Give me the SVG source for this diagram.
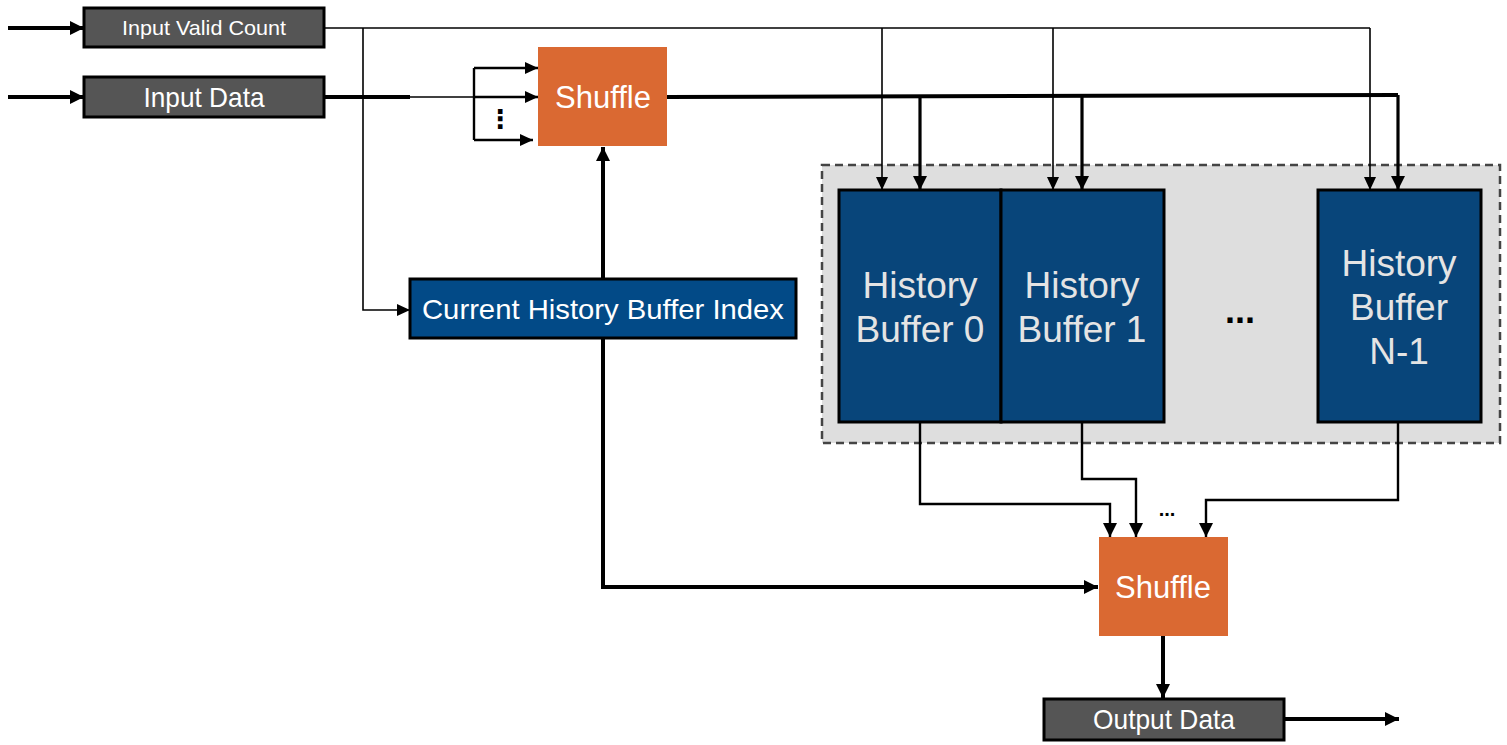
<svg xmlns="http://www.w3.org/2000/svg" width="1507" height="745" viewBox="0 0 1507 745">
<defs>
<marker id="ah" markerUnits="userSpaceOnUse" markerWidth="16" markerHeight="16" viewBox="0 0 16 16" refX="14" refY="8" orient="auto">
<path d="M0,1 L14,8 L0,15 Z" fill="#000"/>
</marker>
<marker id="ahs" markerUnits="userSpaceOnUse" markerWidth="14" markerHeight="14" viewBox="0 0 14 14" refX="13" refY="7" orient="auto">
<path d="M0,1 L13,7 L0,13 Z" fill="#000"/>
</marker>
<style>
.gray{fill:#555555;stroke:#000;stroke-width:3}
.orange{fill:#DA6932}
.hb{fill:#08457A;stroke:#000;stroke-width:3}
.idx{fill:#024A87;stroke:#000;stroke-width:3}
.t{font-family:"Liberation Sans",Arial,sans-serif;fill:#fff;text-anchor:middle}
.th{font-family:"Liberation Sans",Arial,sans-serif;fill:#E4E4E4;text-anchor:middle;font-size:37px}
.w1{stroke:#000;stroke-width:1.6;fill:none}
.w2{stroke:#000;stroke-width:2.4;fill:none}
.w3{stroke:#000;stroke-width:3.2;fill:none}
.w4{stroke:#000;stroke-width:4;fill:none}
.dots{font-family:"Liberation Sans",Arial,sans-serif;fill:#000;font-weight:bold;text-anchor:middle}
</style>
</defs>
<g id="container">
<rect x="822" y="165" width="678" height="278" fill="#DEDEDE" stroke="#444" stroke-width="2.5" stroke-dasharray="8,5"/>
</g>
<g id="connectors">
<line class="w4" x1="8" y1="28" x2="84" y2="28" marker-end="url(#ah)"/>
<line class="w4" x1="8" y1="97" x2="84" y2="97" marker-end="url(#ah)"/>
<polyline class="w1" points="324,28 1370,28"/>
<polyline class="w1" points="363,28 363,310 410,310" marker-end="url(#ahs)"/>
<line class="w1" x1="882" y1="28" x2="882" y2="190" marker-end="url(#ahs)"/>
<line class="w1" x1="1053" y1="28" x2="1053" y2="190" marker-end="url(#ahs)"/>
<line class="w1" x1="1370" y1="28" x2="1370" y2="190" marker-end="url(#ahs)"/>
<line class="w4" x1="324" y1="97" x2="410" y2="97"/>
<line class="w1" x1="410" y1="97" x2="474" y2="97"/>
<polyline class="w2" points="474,68 474,140"/>
<line class="w2" x1="474" y1="68" x2="538" y2="68" marker-end="url(#ahs)"/>
<line class="w2" x1="474" y1="97" x2="538" y2="97" marker-end="url(#ahs)"/>
<line class="w2" x1="474" y1="140" x2="533" y2="140" marker-end="url(#ahs)"/>
<polyline class="w4" points="667,97 1398,95"/>
<line class="w3" x1="920" y1="97" x2="920" y2="190" marker-end="url(#ah)"/>
<line class="w3" x1="1082" y1="96" x2="1082" y2="190" marker-end="url(#ah)"/>
<line class="w3" x1="1398" y1="95" x2="1398" y2="190" marker-end="url(#ah)"/>
<line class="w4" x1="603" y1="279" x2="603" y2="147" marker-end="url(#ah)"/>
<polyline class="w4" points="603,338 603,587 1098,587" marker-end="url(#ah)"/>
<polyline class="w2" points="920,422 920,504 1110,504 1110,537" marker-end="url(#ah)"/>
<polyline class="w2" points="1082,422 1082,479 1136,479 1136,537" marker-end="url(#ah)"/>
<polyline class="w2" points="1398,422 1398,500 1206,500 1206,537" marker-end="url(#ah)"/>
<line class="w4" x1="1163" y1="636" x2="1163" y2="698" marker-end="url(#ah)"/>
<line class="w4" x1="1284" y1="719" x2="1399" y2="719" marker-end="url(#ah)"/>
</g>
<g id="input-valid-count">
<rect class="gray" x="84" y="8" width="240" height="39"/>
<text class="t" x="204" y="35" font-size="21" textLength="164" lengthAdjust="spacingAndGlyphs">Input Valid Count</text>
</g>
<g id="input-data">
<rect class="gray" x="84" y="77" width="240" height="40"/>
<text class="t" x="204" y="107" font-size="28" textLength="121" lengthAdjust="spacingAndGlyphs">Input Data</text>
</g>
<g id="shuffle-in">
<rect class="orange" x="538" y="47" width="129" height="99"/>
<text class="t" x="603" y="108" font-size="31">Shuffle</text>
</g>
<text x="500" y="128" font-family="DejaVu Sans,sans-serif" font-size="26" font-weight="bold" fill="#000" text-anchor="middle">⋮</text>
<g id="current-index">
<rect class="idx" x="410" y="279" width="386" height="59"/>
<text class="t" x="603" y="319" font-size="28" textLength="362" lengthAdjust="spacingAndGlyphs">Current History Buffer Index</text>
</g>
<g id="history-buffer-0">
<rect class="hb" x="839" y="190" width="162" height="232"/>
<text class="th" x="920" y="298">History</text>
<text class="th" x="920" y="342">Buffer 0</text>
</g>
<g id="history-buffer-1">
<rect class="hb" x="1001" y="190" width="163" height="232"/>
<text class="th" x="1082" y="298">History</text>
<text class="th" x="1082" y="342">Buffer 1</text>
</g>
<g id="history-buffer-n1">
<rect class="hb" x="1318" y="190" width="163" height="232"/>
<text class="th" x="1399" y="276">History</text>
<text class="th" x="1399" y="320">Buffer</text>
<text class="th" x="1399" y="364">N-1</text>
</g>
<text class="dots" x="1240" y="323" font-size="36">...</text>
<text class="dots" x="1167" y="516" font-size="20">...</text>
<g id="shuffle-out">
<rect class="orange" x="1099" y="537" width="129" height="99"/>
<text class="t" x="1163" y="598" font-size="31">Shuffle</text>
</g>
<g id="output-data">
<rect class="gray" x="1044" y="699" width="240" height="41"/>
<text class="t" x="1164" y="729" font-size="28" textLength="142" lengthAdjust="spacingAndGlyphs">Output Data</text>
</g>
</svg>
